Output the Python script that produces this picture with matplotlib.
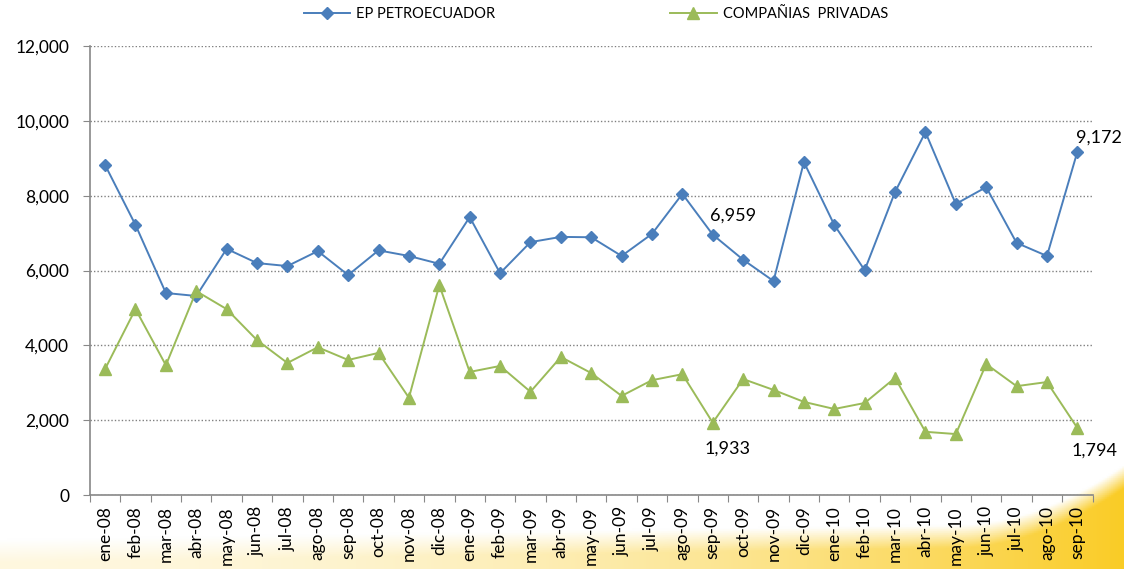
import numpy as np
import matplotlib
matplotlib.use("Agg")
from matplotlib import pyplot as plt
from matplotlib.ticker import FuncFormatter, FixedLocator

plt.rcParams['font.family'] = ['Lato', 'DejaVu Sans']

meses = ["ene-08", "feb-08", "mar-08", "abr-08", "may-08", "jun-08", "jul-08",
         "ago-08", "sep-08", "oct-08", "nov-08", "dic-08",
         "ene-09", "feb-09", "mar-09", "abr-09", "may-09", "jun-09", "jul-09",
         "ago-09", "sep-09", "oct-09", "nov-09", "dic-09",
         "ene-10", "feb-10", "mar-10", "abr-10", "may-10", "jun-10", "jul-10",
         "ago-10", "sep-10"]
petroecuador = [8820, 7220, 5400, 5320, 6580, 6200, 6120, 6520, 5880, 6540,
                6390, 6180, 7430, 5930, 6760, 6900, 6890, 6390, 6980, 8050,
                6959, 6290, 5720, 8900, 7220, 6010, 8100, 9700, 7780, 8230,
                6740, 6390, 9172]
privadas = [3370, 4970, 3470, 5450, 4970, 4140, 3530, 3950, 3610, 3800,
            2600, 5610, 3290, 3450, 2760, 3690, 3260, 2650, 3070, 3230,
            1933, 3100, 2810, 2490, 2300, 2460, 3130, 1690, 1630, 3500,
            2910, 3020, 1794]

azul = "#4A7EBB"
verde = "#9BBB59"

fig = plt.figure(figsize=(11.24, 5.69), dpi=100)

# fondo decorativo amarillo abajo
bg = fig.add_axes([0, 0, 1, 1], zorder=-10)
W, H = 600, 300
gx, gy = np.meshgrid(np.linspace(0, 1, W), np.linspace(0, 1, H))
borde = 0.05 + 0.03 * gx + 0.10 * np.clip((gx - 0.85) / 0.15, 0, 1) ** 2
dentro = np.clip((borde - gy) / 0.04, 0, 1)
fuerza = (0.15 + 0.85 * gx ** 2) * dentro
img = np.ones((H, W, 3))
amarillo = np.array([0.98, 0.80, 0.15])
img = img * (1 - fuerza[..., None]) + amarillo * fuerza[..., None]
bg.imshow(img, origin="lower", extent=[0, 1, 0, 1], aspect="auto")
bg.axis("off")

ax = fig.add_axes([0.080, 0.130, 0.892, 0.789])
ax.patch.set_alpha(0)
x = np.arange(len(meses))

l1, = ax.plot(x, petroecuador, color=azul, lw=1.4, marker="D", ms=6.5,
              markerfacecolor=azul, markeredgecolor=azul, label="EP PETROECUADOR")
l2, = ax.plot(x, privadas, color=verde, lw=1.4, marker="^", ms=8.5,
              markerfacecolor=verde, markeredgecolor=verde, label="COMPAÑIAS  PRIVADAS")

ax.set_ylim(0, 12000)
ax.set_xlim(-0.5, len(meses) - 0.5)
ax.set_yticks(np.arange(0, 12001, 2000))
ax.yaxis.set_major_formatter(FuncFormatter(lambda v, p: f"{int(v):,}"))
ax.grid(axis="y", color="#808080", linestyle=(0, (1, 1.5)), lw=1.0)
ax.set_axisbelow(True)

ax.xaxis.set_major_locator(FixedLocator(np.arange(-0.5, len(meses), 1)))
ax.xaxis.set_major_formatter(FuncFormatter(lambda v, p: ""))
ax.xaxis.set_minor_locator(FixedLocator(x))
ax.set_xticklabels(meses, minor=True, rotation=90, fontsize=12.5)
ax.tick_params(axis="x", which="minor", length=0, pad=8)
ax.tick_params(axis="x", which="major", length=5, color="#888888")
ax.tick_params(axis="y", length=5, color="#888888", labelsize=12.5, pad=10)

for s in ["top", "right"]:
    ax.spines[s].set_visible(False)
for s in ["left", "bottom"]:
    ax.spines[s].set_color("#888888")
    ax.spines[s].set_linewidth(1.2)

i = meses.index("sep-09")
ax.annotate(f"{petroecuador[i]:,}", (x[i], petroecuador[i]), xytext=(-2, 10),
            textcoords="offset points", fontsize=13)
ax.annotate(f"{privadas[i]:,}", (x[i], privadas[i]), xytext=(-6, -22),
            textcoords="offset points", fontsize=13)
j = meses.index("sep-10")
ax.annotate(f"{petroecuador[j]:,}", (x[j], petroecuador[j]), xytext=(-1, 7),
            textcoords="offset points", fontsize=13, annotation_clip=False)
ax.annotate(f"{privadas[j]:,}", (x[j], privadas[j]), xytext=(-4, -20),
            textcoords="offset points", fontsize=13, annotation_clip=False)

fig.legend(handles=[l1, l2], loc="upper center", bbox_to_anchor=(0.53, 1.01),
           ncol=2, frameon=False, fontsize=10.5, handlelength=3.2,
           columnspacing=12, handletextpad=0.4)

fig.savefig("out.png", dpi=100)
